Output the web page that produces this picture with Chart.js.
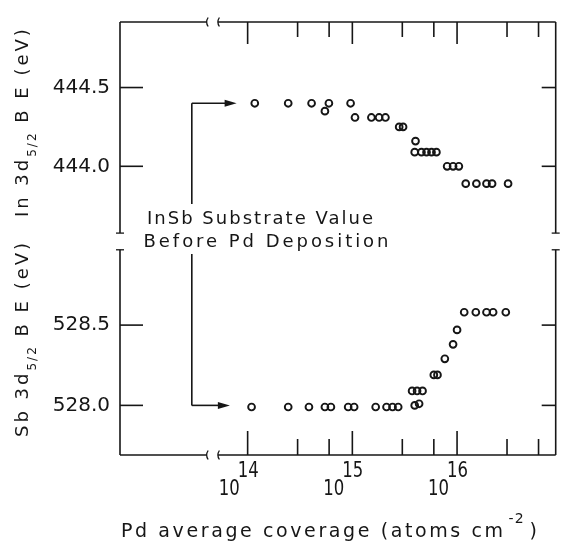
<!DOCTYPE html>
<html>
<head>
<meta charset="utf-8">
<script src="https://cdn.jsdelivr.net/npm/chart.js@4.4.1/dist/chart.umd.min.js"></script>
<style>
  html, body { margin: 0; background: #fff; }
  canvas { display: block; }
</style>
</head>
<body>
<canvas id="chart" width="561" height="542"></canvas>
<script>
// Pd average coverage (atoms cm^-2) and In 3d5/2 binding energy (eV)
const IN_COVERAGE = [1.17e14, 2.44e14, 4.08e14, 5.47e14, 5.97e14, 9.62e14, 1.06e15, 1.52e15, 1.80e15, 2.07e15,
  2.80e15, 3.05e15, 4.01e15, 3.94e15, 4.57e15, 5.11e15, 5.70e15, 6.35e15, 8.04e15, 9.16e15,
  1.04e16, 1.21e16, 1.53e16, 1.91e16, 2.16e16, 3.07e16];
const IN_BE = [444.40, 444.40, 444.40, 444.35, 444.40, 444.40, 444.31, 444.31, 444.31, 444.31,
  444.25, 444.25, 444.16, 444.09, 444.09, 444.09, 444.09, 444.09, 444.00, 444.00,
  444.00, 443.89, 443.89, 443.89, 443.89, 443.89];

// Pd average coverage and Sb 3d5/2 binding energy (eV)
const SB_COVERAGE = [1.09e14, 2.44e14, 3.85e14, 5.47e14, 6.24e14, 9.12e14, 1.04e15, 1.67e15, 2.12e15, 2.42e15,
  2.74e15, 3.72e15, 3.94e15, 4.15e15, 4.34e15, 4.68e15, 6.00e15, 6.50e15, 7.64e15, 9.16e15,
  1.00e16, 1.17e16, 1.51e16, 1.91e16, 2.21e16, 2.92e16];
const SB_BE = [527.99, 527.99, 527.99, 527.99, 527.99, 527.99, 527.99, 527.99, 527.99, 527.99,
  527.99, 528.09, 528.00, 528.09, 528.01, 528.09, 528.19, 528.19, 528.29, 528.38,
  528.47, 528.58, 528.58, 528.58, 528.58, 528.58];

// substrate values before deposition (arrows)
const IN_SUBSTRATE = 444.40;
const SB_SUBSTRATE = 528.00;

// axes
const IN_TICKS = [444.0, 444.5];
const SB_TICKS = [528.0, 528.5];
const X_MAJOR = [1e14, 1e15, 1e16];
const X_EXPONENTS = ["14", "15", "16"];
const X_MINOR = [3e14, 6e14, 3e15, 6e15, 3e16, 6e16];
const IN_RANGE = [443.576, 444.916];
const SB_RANGE = [527.691, 528.969];
const X_RANGE = [6.04e12, 8.75e16];

const INK = "#161616";
const FONT = '"DejaVu Sans", sans-serif';
const AXIS_W = 76;

// annotation geometry (in coverage units, mapped through the x scale)
const X_BREAK = [4.06e13, 5.2e13];
const ARROW_X = 2.93e13;
const ARROW_TIP_IN = 7.85e13;
const ARROW_TIP_SB = 6.77e13;

function drawText(ctx, str, x, y, o = {}) {
  ctx.save();
  ctx.font = `${o.size || 18}px ${FONT}`;
  ctx.textAlign = o.align || "left";
  ctx.textBaseline = "alphabetic";
  ctx.fillStyle = INK;
  let spacing = o.spacing || 0;
  if (o.fit) {
    ctx.letterSpacing = "0px";
    const plain = ctx.measureText(str).width;
    spacing = (o.fit - plain) / Math.max(1, str.length - 1);
  }
  ctx.letterSpacing = `${spacing}px`;
  ctx.translate(x, y);
  if (o.rotate) ctx.rotate(o.rotate);
  ctx.scale(o.sx || 1, 1);
  ctx.fillText(str, 0, 0);
  const w = ctx.measureText(str).width * (o.sx || 1);
  ctx.restore();
  return w;
}

function rotatedTitle(ctx, x, y, pieces) {
  let cur = y;
  for (const [text, size, shift, spacing] of pieces) {
    cur -= drawText(ctx, text, x + shift, cur, { size, spacing, rotate: -Math.PI / 2 });
  }
}

const framePlugin = {
  id: "frame",
  afterDraw(chart) {
    const { ctx, chartArea: ca, scales: { x, yIn, ySb } } = chart;
    const L = ca.left, R = ca.right;
    const uT = yIn.top, uB = yIn.bottom, lT = ySb.top, lB = ySb.bottom;
    const px = (v) => x.getPixelForValue(v);
    const line = (x1, y1, x2, y2) => {
      ctx.beginPath(); ctx.moveTo(x1, y1); ctx.lineTo(x2, y2); ctx.stroke();
    };
    ctx.save();
    ctx.strokeStyle = INK;
    ctx.fillStyle = INK;
    ctx.lineWidth = 1.6;

    // frame with breaks
    const b0 = px(X_BREAK[0]), b1 = px(X_BREAK[1]);
    line(L, uT, b0, uT); line(b1, uT, R, uT);
    line(L, lB, b0, lB); line(b1, lB, R, lB);
    line(L, uT, L, uB); line(R, uT, R, uB);
    line(L, lT, L, lB); line(R, lT, R, lB);
    ctx.lineWidth = 1.3;
    for (const yy of [uT, lB]) {
      for (const bx of [b0, b1]) {
        ctx.beginPath();
        ctx.moveTo(bx + 1.5, yy - 4.5);
        ctx.quadraticCurveTo(bx - 1.5, yy, bx + 1.5, yy + 4.5);
        ctx.stroke();
      }
    }
    for (const xx of [L, R]) {
      line(xx - 4, uB, xx + 4, uB);
      line(xx - 4, lT, xx + 4, lT);
    }
    ctx.lineWidth = 1.6;

    // inward ticks
    for (const v of IN_TICKS) {
      const y = yIn.getPixelForValue(v);
      line(L, y, L + 23, y); line(R - 14, y, R, y);
    }
    for (const v of SB_TICKS) {
      const y = ySb.getPixelForValue(v);
      line(L, y, L + 23, y); line(R - 14, y, R, y);
    }
    for (const v of X_MAJOR) {
      const xx = px(v);
      line(xx, uT, xx, uT + 22); line(xx, lB - 24, xx, lB);
    }
    for (const v of X_MINOR) {
      const xx = px(v);
      line(xx, uT, xx, uT + 15); line(xx, lB - 16, xx, lB);
    }

    // substrate arrows
    const ax = px(ARROW_X);
    const yU = yIn.getPixelForValue(IN_SUBSTRATE);
    const yL = ySb.getPixelForValue(SB_SUBSTRATE);
    line(ax, yU, ax, uB - 29);
    line(ax, uB + 21, ax, yL);
    for (const [yy, tipV] of [[yU, ARROW_TIP_IN], [yL, ARROW_TIP_SB]]) {
      const tip = px(tipV);
      line(ax, yy, tip - 8, yy);
      ctx.beginPath();
      ctx.moveTo(tip, yy); ctx.lineTo(tip - 12, yy - 3.5); ctx.lineTo(tip - 12, yy + 3.5);
      ctx.closePath(); ctx.fill();
    }
    ctx.restore();

    // annotation
    drawText(ctx, "InSb Substrate Value", L + 27, uB - 9.5, { size: 18, fit: 226 });
    drawText(ctx, "Before Pd Deposition", L + 23.5, uB + 13.5, { size: 18, fit: 245 });

    // x tick labels 10^n
    X_MAJOR.forEach((v, i) => {
      const xx = px(v);
      drawText(ctx, "10", xx - 8, lB + 40, { size: 22, sx: 0.75, align: "right" });
      drawText(ctx, X_EXPONENTS[i], xx - 10, lB + 21.5, { size: 22, sx: 0.75 });
    });

    // x title
    const xt = drawText(ctx, "Pd average coverage (atoms cm", L + 1, 536.5, { size: 19, fit: 382 });
    drawText(ctx, "-2", L + 4 + xt, 522.5, { size: 14, spacing: 1 });
    drawText(ctx, ")", L + 25 + xt, 536.5, { size: 19 });

    // y titles
    rotatedTitle(ctx, 28, uB - 16, [["In 3d", 18, 0, 3], ["5/2", 12, 8, 2], [" B E (eV)", 18, 0, 3]]);
    rotatedTitle(ctx, 28, lB - 18, [["Sb 3d", 18, 0, 3], ["5/2", 12, 8, 2], [" B E (eV)", 18, 0, 3]]);
  },
};

const pointStyle = {
  pointStyle: "circle",
  pointRadius: 3.4,
  pointHoverRadius: 3.4,
  borderWidth: 1.9,
  borderColor: INK,
  backgroundColor: "rgba(0,0,0,0)",
  showLine: false,
};

function yAxis(range, ticks, weight, stackWeight) {
  return {
    type: "linear",
    position: "left",
    stack: "be",
    stackWeight,
    weight,
    min: range[0],
    max: range[1],
    grid: { display: false, drawTicks: false },
    border: { display: false },
    ticks: {
      color: INK,
      padding: 10,
      font: { family: FONT, size: 20 },
      callback: (v) => Number(v).toFixed(1),
    },
    afterBuildTicks: (s) => { s.ticks = ticks.map((value) => ({ value })); },
    afterFit: (s) => { s.width = AXIS_W; },
  };
}

new Chart(document.getElementById("chart"), {
  type: "scatter",
  data: {
    datasets: [
      { label: "In 3d5/2", data: IN_COVERAGE.map((c, i) => ({ x: c, y: IN_BE[i] })), yAxisID: "yIn", ...pointStyle },
      { label: "Sb 3d5/2", data: SB_COVERAGE.map((c, i) => ({ x: c, y: SB_BE[i] })), yAxisID: "ySb", ...pointStyle },
    ],
  },
  options: {
    responsive: false,
    animation: false,
    devicePixelRatio: 1,
    layout: { padding: { left: 120 - AXIS_W, right: 5, top: 14, bottom: 87 } },
    plugins: { legend: { display: false }, tooltip: { enabled: false } },
    scales: {
      x: { type: "logarithmic", min: X_RANGE[0], max: X_RANGE[1], display: false },
      yIn: yAxis(IN_RANGE, IN_TICKS, 3, 215),
      yGap: {
        type: "linear", position: "left", stack: "be", stackWeight: 17, weight: 2,
        min: 0, max: 1,
        grid: { display: false, drawTicks: false },
        border: { display: false },
        ticks: { display: false },
        afterFit: (s) => { s.width = AXIS_W; },
      },
      ySb: yAxis(SB_RANGE, SB_TICKS, 1, 209),
    },
  },
  plugins: [framePlugin],
});
</script>
</body>
</html>
